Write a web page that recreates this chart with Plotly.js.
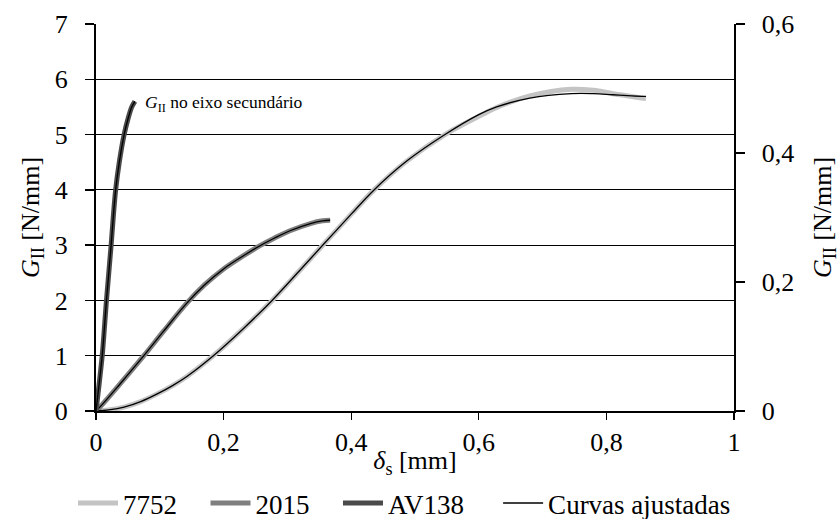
<!DOCTYPE html>
<html>
<head>
<meta charset="utf-8">
<script src="https://cdn.plot.ly/plotly-3.0.1.min.js"></script>
<style>html,body{margin:0;padding:0;background:#fff;}#chart{width:840px;height:519px;}</style>
</head>
<body>
<div id="chart"></div>
<script>
// Raw data series
const x7752 = [0, 0.02, 0.044, 0.07, 0.096, 0.12, 0.143, 0.184, 0.23, 0.276, 0.32, 0.357, 0.4, 0.435, 0.487, 0.547, 0.6, 0.628, 0.68, 0.745, 0.78, 0.81, 0.84, 0.862];
const y7752 = [0, 0.02, 0.07, 0.17, 0.31, 0.46, 0.63, 1.0, 1.48, 2.0, 2.55, 3.02, 3.56, 3.99, 4.52, 5.0, 5.33, 5.49, 5.7, 5.82, 5.8, 5.74, 5.69, 5.65];
const x2015 = [0, 0.01, 0.037, 0.075, 0.105, 0.143, 0.17, 0.2, 0.23, 0.257, 0.28, 0.304, 0.336, 0.355, 0.367];
const y2015 = [0, 0.12, 0.48, 1.0, 1.43, 1.96, 2.28, 2.57, 2.8, 2.99, 3.13, 3.26, 3.39, 3.44, 3.45];
const xAV138 = [0, 0.0097, 0.0164, 0.0237, 0.027, 0.0308, 0.0365, 0.0441, 0.0505, 0.056, 0.061];
const yAV138 = [0, 0.0857, 0.1714, 0.2571, 0.3, 0.3429, 0.3857, 0.4286, 0.4543, 0.4714, 0.48]; // secondary axis

// Fitted curves
const xFit7752 = [0, 0.02, 0.044, 0.07, 0.096, 0.12, 0.143, 0.184, 0.23, 0.276, 0.32, 0.357, 0.4, 0.435, 0.487, 0.547, 0.6, 0.628, 0.68, 0.745, 0.78, 0.81, 0.84, 0.862];
const yFit7752 = [0, 0.02, 0.07, 0.17, 0.31, 0.46, 0.63, 1.0, 1.48, 2.0, 2.55, 3.02, 3.56, 3.99, 4.52, 5.0, 5.36, 5.5, 5.66, 5.74, 5.74, 5.72, 5.7, 5.69];
const xFit2015 = x2015;
const yFit2015 = y2015;
const xFitAV138 = xAV138;
const yFitAV138 = yAV138;

const xTicks = [0, 0.2, 0.4, 0.6, 0.8, 1];
const yTicks = [0, 1, 2, 3, 4, 5, 6, 7];
const y2Ticks = [0, 0.2, 0.4, 0.6];

const serif = "'Liberation Serif', 'Times New Roman', Times, serif";
const fs = 26;

const traces = [
  {x: x7752, y: y7752, name: '7752', mode: 'lines', line: {color: '#c4c4c4', width: 5, shape: 'spline', smoothing: 1}},
  {x: x2015, y: y2015, name: '2015', mode: 'lines', line: {color: '#7f7f7f', width: 5, shape: 'spline', smoothing: 1}},
  {x: xAV138, y: yAV138, name: 'AV138', yaxis: 'y2', mode: 'lines', line: {color: '#4a4a4a', width: 5, shape: 'spline', smoothing: 0.8}},
  {x: xFit7752, y: yFit7752, name: 'Curvas ajustadas', mode: 'lines', line: {color: '#000', width: 1.3, shape: 'spline', smoothing: 1}, legendgroup: 'fit', legend: 'legend2'},
  {x: xFit2015, y: yFit2015, name: 'Curvas ajustadas', mode: 'lines', line: {color: '#000', width: 1.3, shape: 'spline', smoothing: 1}, legendgroup: 'fit', legend: 'legend2', showlegend: false},
  {x: xFitAV138, y: yFitAV138, name: 'Curvas ajustadas', yaxis: 'y2', mode: 'lines', line: {color: '#000', width: 1.3, shape: 'spline', smoothing: 0.8}, legendgroup: 'fit', legend: 'legend2', showlegend: false}
];

const layout = {
  width: 840, height: 519,
  margin: {l: 96, r: 106, t: 24, b: 108},
  paper_bgcolor: '#fff', plot_bgcolor: '#fff',
  separators: ',.',
  font: {family: serif, size: fs, color: '#000'},
  showlegend: true,
  legend: {orientation: 'h', xref: 'container', yref: 'container', x: 0.0869, xanchor: 'left', y: 0.03, yanchor: 'middle',
           font: {family: serif, size: 27}, traceorder: 'normal', bgcolor: 'rgba(0,0,0,0)', itemwidth: 40,
           entrywidth: 77.5, entrywidthmode: 'pixels'},
  legend2: {orientation: 'h', xref: 'container', yref: 'container', x: 0.593, xanchor: 'left', y: 0.03, yanchor: 'middle',
           font: {family: serif, size: 27}, bgcolor: 'rgba(0,0,0,0)', itemwidth: 40},
  xaxis: {
    range: [0, 1], tickvals: xTicks, ticks: 'outside', ticklen: 7, tickwidth: 1.3, tickcolor: '#000',
    showline: true, linecolor: '#000', linewidth: 2, showgrid: false, zeroline: false,
    tickfont: {family: serif, size: fs}, ticklabelstandoff: 0,
    title: {text: '<i>δ</i><sub>s</sub> [mm]', font: {family: serif, size: fs}}
  },
  yaxis: {
    range: [0, 7], tickvals: yTicks, ticks: 'outside', ticklen: 9, tickwidth: 1.3, tickcolor: '#000',
    showline: true, linecolor: '#000', linewidth: 2, showgrid: true, gridcolor: '#000', gridwidth: 1.2, zeroline: false,
    tickfont: {family: serif, size: fs}, ticklabelstandoff: 12,
    title: {text: '<i>G</i><sub>II</sub> [N/mm]', font: {family: serif, size: fs}, standoff: 8}
  },
  yaxis2: {
    range: [0, 0.6], tickvals: y2Ticks, overlaying: 'y', side: 'right', ticks: 'outside', ticklen: 9, tickwidth: 1.3, tickcolor: '#000',
    showline: true, linecolor: '#000', linewidth: 1.5, showgrid: false, zeroline: false,
    tickfont: {family: serif, size: fs}, ticklabelstandoff: 12,
    title: {text: '<i>G</i><sub>II</sub> [N/mm]', font: {family: serif, size: fs}, standoff: 20}
  },
  annotations: [
    {x: 0.074, y: 5.57, xref: 'x', yref: 'y', text: '<i>G</i><sub>II</sub> no eixo secundário', showarrow: false, xanchor: 'left', yanchor: 'middle', font: {family: serif, size: 17.5, color: '#000'}}
  ]
};

Plotly.newPlot('chart', traces, layout, {staticPlot: true, displayModeBar: false});
</script>
</body>
</html>
